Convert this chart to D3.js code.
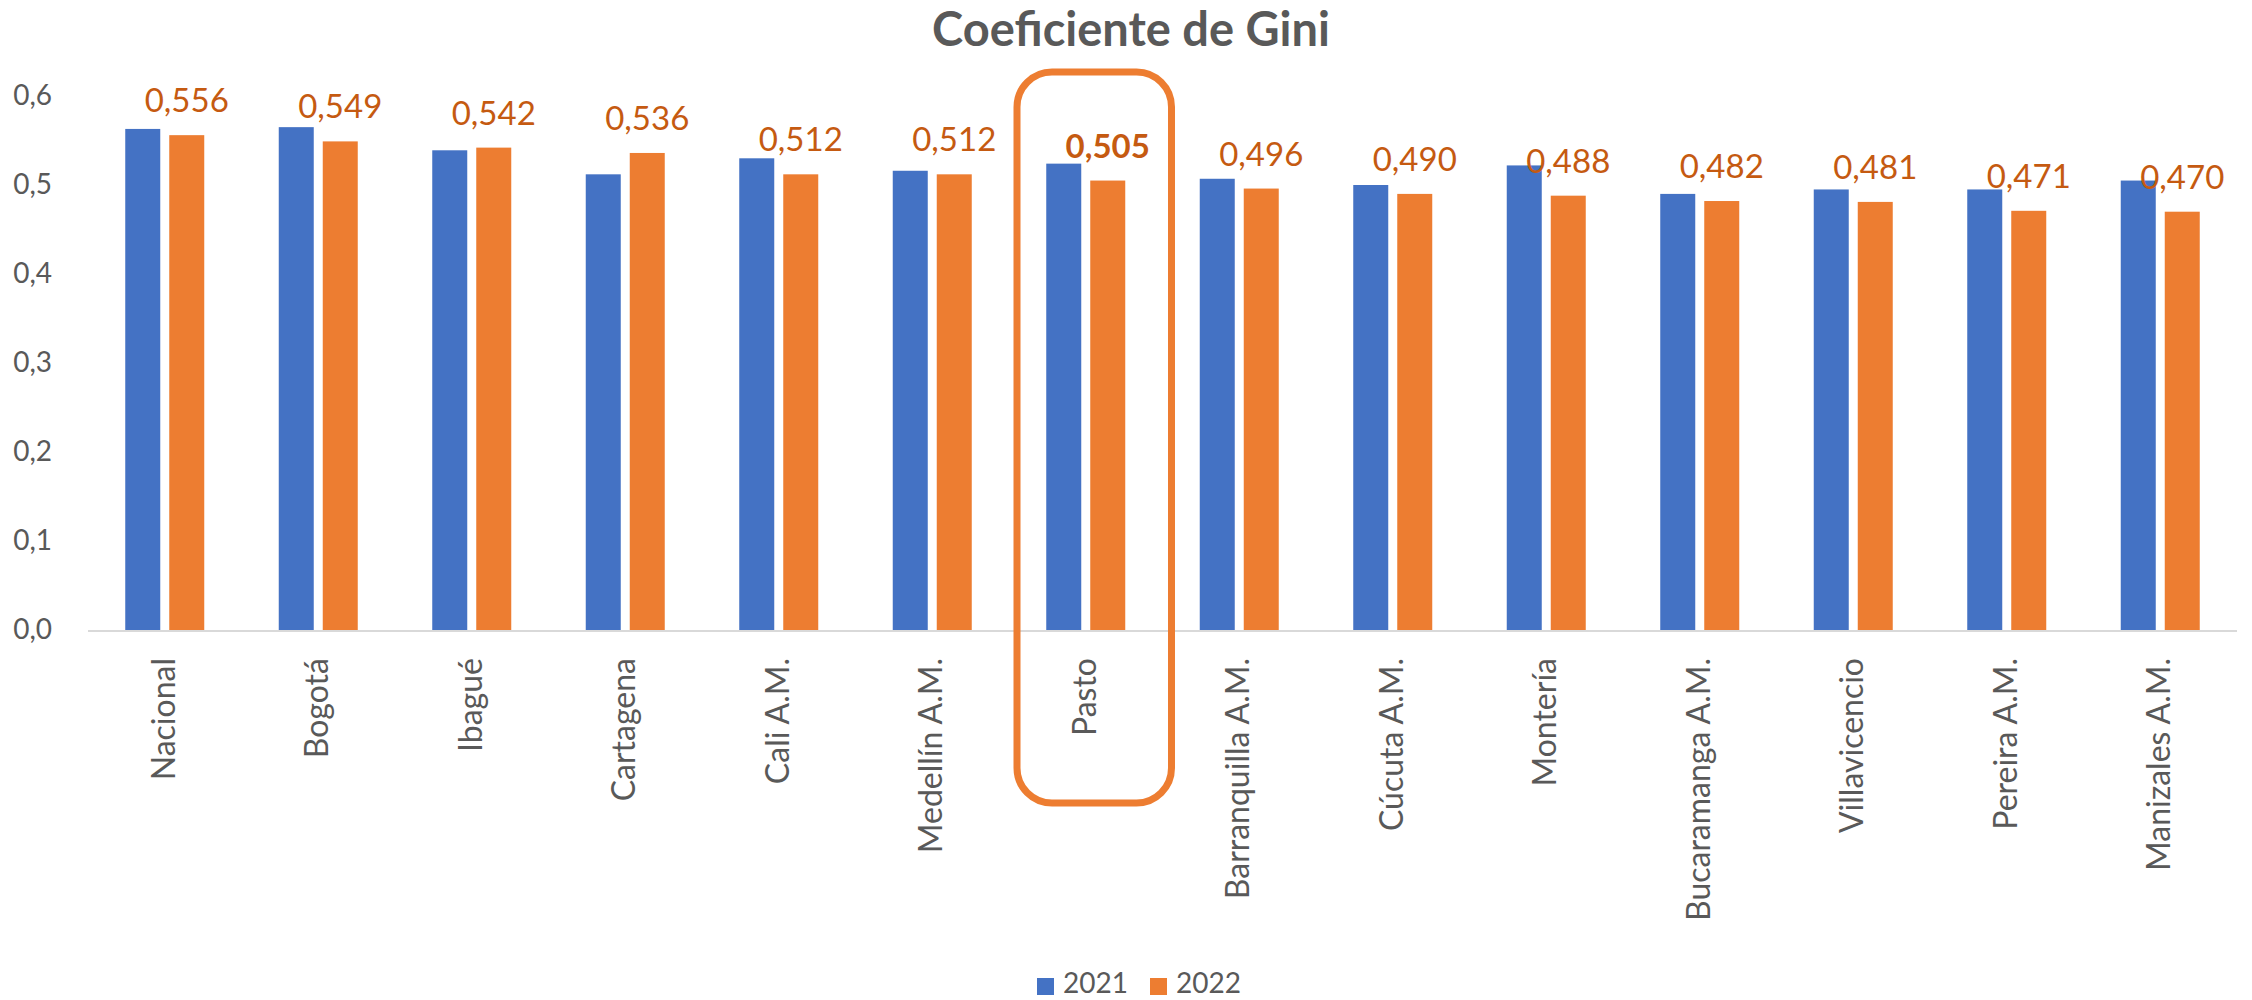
<!DOCTYPE html>
<html>
<head>
<meta charset="utf-8">
<script src="https://cdn.jsdelivr.net/npm/d3@7"></script>
<style>
  html, body { margin: 0; padding: 0; background: #fff; }
  svg { display: block; }
  text { font-family: Lato, "Open Sans", sans-serif; }
</style>
</head>
<body>
<svg id="chart" width="2252" height="1000"></svg>
<script>
const categories = ["Nacional", "Bogotá", "Ibagué", "Cartagena", "Cali A.M.", "Medellín A.M.", "Pasto",
  "Barranquilla A.M.", "Cúcuta A.M.", "Montería", "Bucaramanga A.M.", "Villavicencio", "Pereira A.M.", "Manizales A.M."];
const seriesNames = ["2021", "2022"];
const values2021 = [0.563, 0.565, 0.539, 0.512, 0.530, 0.516, 0.524, 0.507, 0.500, 0.522, 0.490, 0.495, 0.495, 0.505];
const values2022 = [0.556, 0.549, 0.542, 0.536, 0.512, 0.512, 0.505, 0.496, 0.490, 0.488, 0.482, 0.481, 0.471, 0.470];
const yTicks = [0, 0.1, 0.2, 0.3, 0.4, 0.5, 0.6];
const highlight = "Pasto";
const title = "Coeficiente de Gini";

const colors = { "2021": "#4472C4", "2022": "#ED7D31" };
const labelColor = "#C55A11";
const textGray = "#595959";

const svg = d3.select("#chart");

const x = d3.scaleBand().domain(categories).range([88, 2237]).paddingInner(0).paddingOuter(0);
const xs = d3.scaleBand().domain(seriesNames).range([-39.5, 39.5]).paddingInner(9 / 44);
const y = d3.scaleLinear().domain([0, 0.6]).range([630, 96]);

const data = categories.map((c, i) => ({ cat: c, vals: { "2021": values2021[i], "2022": values2022[i] } }));

// Title
svg.append("text")
  .attr("x", 1131).attr("y", 46)
  .attr("text-anchor", "middle")
  .attr("font-size", 47).attr("font-weight", "bold")
  .attr("fill", textGray)
  .text(title);

// Y axis labels
const yAxis = d3.axisLeft(y).tickValues(yTicks).tickSize(0).tickPadding(0)
  .tickFormat(d => d3.format(".1f")(d).replace(".", ","));
const gy = svg.append("g").attr("transform", "translate(52,0)").call(yAxis);
gy.select(".domain").remove();
gy.selectAll("text").attr("font-size", 28).attr("fill", textGray)
  .attr("font-family", "Lato, 'Open Sans', sans-serif");

// Bars
const groups = svg.append("g").selectAll("g").data(data).join("g")
  .attr("transform", d => `translate(${x(d.cat) + x.bandwidth() / 2},0)`);

groups.selectAll("rect").data(d => seriesNames.map(s => ({ s, v: d.vals[s] }))).join("rect")
  .attr("x", d => xs(d.s))
  .attr("width", xs.bandwidth())
  .attr("y", d => y(d.v))
  .attr("height", d => y(0) - y(d.v))
  .attr("fill", d => colors[d.s]);

// Data labels (2022)
groups.append("text")
  .attr("x", xs("2022") + xs.bandwidth() / 2)
  .attr("y", d => y(d.vals["2022"]) - 23)
  .attr("text-anchor", "middle")
  .attr("font-size", 33)
  .attr("font-weight", d => d.cat === highlight ? "bold" : "normal")
  .attr("fill", labelColor)
  .text(d => d3.format(".3f")(d.vals["2022"]).replace(".", ","));

// Baseline
svg.append("line")
  .attr("x1", x.range()[0]).attr("x2", x.range()[1])
  .attr("y1", y(0) + 1).attr("y2", y(0) + 1)
  .attr("stroke", "#D9D9D9").attr("stroke-width", 2);

// Category labels
svg.append("g").selectAll("text").data(categories).join("text")
  .attr("transform", d => `translate(${x(d) + x.bandwidth() / 2 - 1},658) rotate(-90)`)
  .attr("text-anchor", "end")
  .attr("dy", "0.35em")
  .attr("font-size", 32)
  .attr("fill", textGray)
  .text(d => d);

// Highlight box
svg.append("rect")
  .attr("x", x(highlight) + 8)
  .attr("y", 72)
  .attr("width", x.bandwidth() + 1)
  .attr("height", 731)
  .attr("rx", 35).attr("ry", 35)
  .attr("fill", "none")
  .attr("stroke", "#ED7D31")
  .attr("stroke-width", 7);

// Legend
const legend = svg.append("g");
const legendPos = [{ s: "2021", x: 1037 }, { s: "2022", x: 1150 }];
legendPos.forEach(p => {
  legend.append("rect").attr("x", p.x).attr("y", 978).attr("width", 17).attr("height", 17).attr("fill", colors[p.s]);
  legend.append("text").attr("x", p.x + 26).attr("y", 993)
    .attr("font-size", 28).attr("fill", textGray).text(p.s);
});
</script>
</body>
</html>
